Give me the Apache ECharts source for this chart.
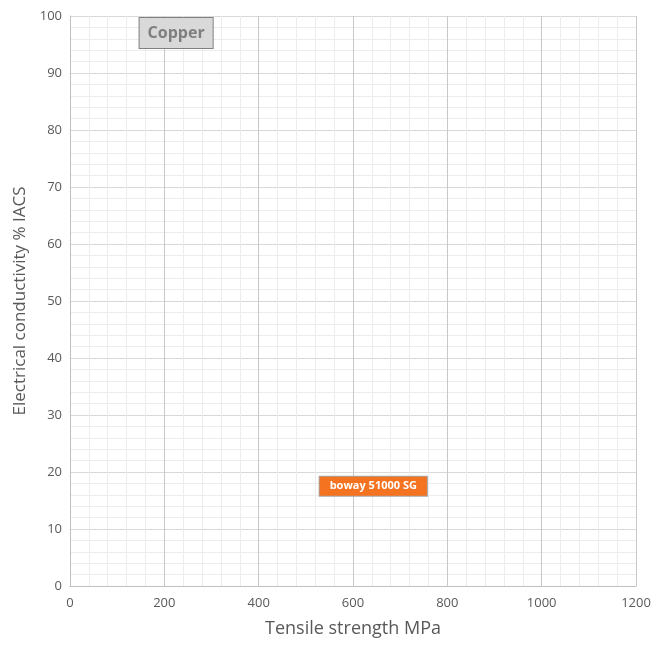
<!DOCTYPE html>
<html>
<head>
<meta charset="utf-8">
<script src="https://cdn.jsdelivr.net/npm/echarts@6/dist/echarts.min.js"></script>
<style>
  html, body { margin: 0; padding: 0; background: #ffffff; }
  #chart { width: 657px; height: 648px; }
</style>
</head>
<body>
<div id="chart"></div>
<script>
// materials: [tensile strength MPa, conductivity % IACS]
var materialNames = ['Copper', 'boway 51000 SG']
var strengthValues = [225, 643]
var conductivityValues = [97, 17.5]

var xTicks = [0, 200, 400, 600, 800, 1000, 1200]
var yTicks = [0, 10, 20, 30, 40, 50, 60, 70, 80, 90, 100]

var labelStyles = [
  { backgroundColor: '#d9d9d9', borderColor: '#808080', color: '#7f7f7f', fontSize: 16, padding: [7, 8, 7, 8] },
  { backgroundColor: '#f47321', borderColor: '#a6a6a6', color: '#ffffff', fontSize: 11, padding: [4, 10, 4, 10] }
]

var myChart = echarts.init(document.getElementById('chart'))
myChart.setOption({
  animation: false,
  textStyle: { fontFamily: 'Open Sans' },
  grid: { left: 70, right: 21, top: 16, bottom: 62 },
  xAxis: {
    type: 'value',
    min: xTicks[0],
    max: xTicks[xTicks.length - 1],
    interval: 200,
    name: 'Tensile strength MPa',
    nameLocation: 'middle',
    nameGap: 34,
    nameTextStyle: { fontSize: 18, color: '#595959' },
    axisLine: { show: true, lineStyle: { color: '#bfbfbf' } },
    axisTick: { show: false },
    axisLabel: { fontSize: 13, color: '#595959', margin: 11, formatter: function (v) { return String(v) } },
    splitLine: { show: true, lineStyle: { color: '#c8c8c8' } },
    minorTick: { show: false, splitNumber: 5 },
    minorSplitLine: { show: true, lineStyle: { color: '#ececec' } }
  },
  yAxis: {
    type: 'value',
    min: yTicks[0],
    max: yTicks[yTicks.length - 1],
    interval: 10,
    name: 'Electrical conductivity % IACS',
    nameLocation: 'middle',
    nameGap: 37,
    nameTextStyle: { fontSize: 17, color: '#595959' },
    axisLine: { show: true, lineStyle: { color: '#bfbfbf' } },
    axisTick: { show: false },
    axisLabel: { fontSize: 13, color: '#595959', margin: 8 },
    splitLine: { show: true, lineStyle: { color: '#d9d9d9' } },
    minorTick: { show: false, splitNumber: 5 },
    minorSplitLine: { show: true, lineStyle: { color: '#ececec' } }
  },
  series: [{
    type: 'scatter',
    symbolSize: 0,
    itemStyle: { opacity: 1 },
    emphasis: { disabled: true },
    data: materialNames.map(function (name, i) {
      var s = labelStyles[i]
      return {
        name: name,
        value: [strengthValues[i], conductivityValues[i]],
        label: {
          show: true,
          position: 'inside',
          formatter: name,
          fontWeight: 'bold',
          fontSize: s.fontSize,
          color: s.color,
          backgroundColor: s.backgroundColor,
          borderColor: s.borderColor,
          borderWidth: 1,
          padding: s.padding
        }
      }
    })
  }]
})
</script>
</body>
</html>
